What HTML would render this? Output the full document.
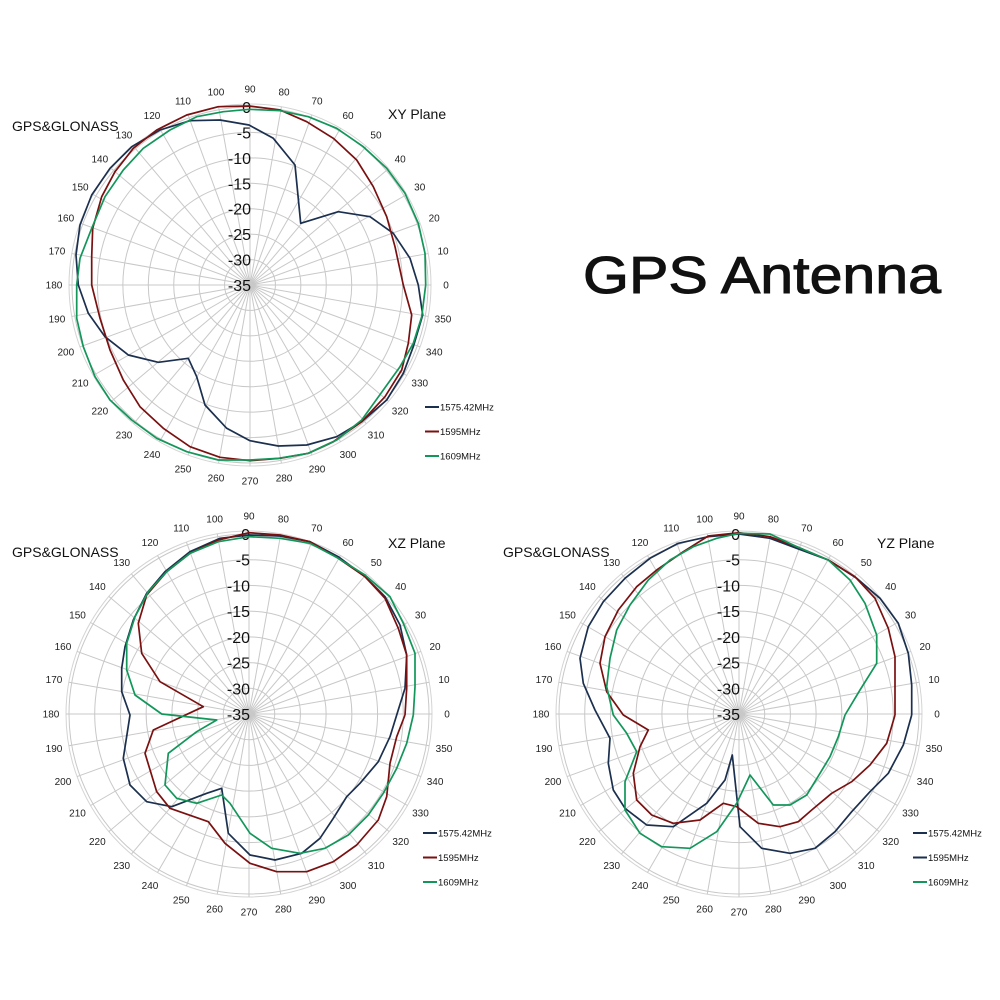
<!DOCTYPE html>
<html><head><meta charset="utf-8"><style>
html,body{margin:0;padding:0;background:#fff;width:1000px;height:1000px;overflow:hidden}
svg{display:block}
text{font-family:"Liberation Sans",Arial,sans-serif}
</style></head><body>
<svg id="s" width="1000" height="1000" xmlns="http://www.w3.org/2000/svg">
<text x="583" y="293" font-size="52" fill="#111" stroke="#111" stroke-width="1" textLength="358" lengthAdjust="spacingAndGlyphs">GPS Antenna</text>
</svg>
<script>
const NS="http://www.w3.org/2000/svg";
const s=document.getElementById('s');
function el(t,a,txt){const e=document.createElementNS(NS,t);for(const k in a)e.setAttribute(k,a[k]);if(txt!==undefined)e.textContent=txt;s.appendChild(e);return e;}
const NAVY="#1b2f4e",RED="#7a1010",GREEN="#12965a";
function plot(cx,cy,R,ox,oy,title,curves,legx,legy,legCols){
  for(let k=1;k<=7;k++)el('circle',{cx,cy,r:R*k/7,fill:'none',stroke:'#c8c8c8','stroke-width':1});
  el('circle',{cx,cy,r:R+3,fill:'none',stroke:'#d4d4d4','stroke-width':1});
  for(let a=0;a<360;a+=10){const t=a*Math.PI/180;
    el('line',{x1:cx,y1:cy,x2:cx+(R+3)*Math.cos(t),y2:cy-(R+3)*Math.sin(t),stroke:'#c8c8c8','stroke-width':1});
    el('text',{x:cx+(R+18)*Math.cos(t),y:cy-(R+18)*Math.sin(t)+3.5,'font-size':10,'text-anchor':'middle',fill:'#222'},String(a));
  }
  for(let k=0;k<=7;k++){el('text',{x:cx+1,y:cy-R*k/7+6,'font-size':16,'text-anchor':'end',fill:'#111'},String(k==7?0:-(35-5*k)));}
  curves.forEach((c,i)=>{
    const pts=c.p.map(p=>(ox+p[0]/3).toFixed(1)+','+(oy+p[1]/3).toFixed(1)).join(' ');
    el('polyline',{points:pts,fill:'none',stroke:c.col,'stroke-width':1.7,'stroke-linejoin':'round'});
  });
  ['1575.42MHz','1595MHz','1609MHz'].forEach((n,i)=>{
    const y=legy+i*24.5;
    el('line',{x1:legx,y1:y,x2:legx+14,y2:y,stroke:legCols[i],'stroke-width':2});
    el('text',{x:legx+15,y:y+3.5,'font-size':9.5,fill:'#111'},n);
  });
}
plot(250,285,178,60,80,'',[
 {col:NAVY,p:[[1075,615],[1088,705],[1060,800],[1030,880],[980,960],[905,1025],[830,1070],[740,1095],[655,1098],[570,1082],[500,1045],[435,975],[410,890],[385,835],[295,847],[205,825],[135,770],[85,700],[55,615],[48,525],[60,435],[95,345],[150,265],[215,200],[300,150],[390,122],[480,120],[567,135],[640,175],[705,255],[722,430],[835,395],[930,410],[1000,460],[1050,535],[1075,615]]},
 {col:RED,p:[[1030,615],[1055,705],[1045,790],[1025,870],[975,950],[905,1025],[820,1085],[745,1120],[660,1135],[570,1142],[480,1132],[390,1100],[310,1045],[240,980],[190,900],[150,810],[120,715],[95,615],[95,530],[98,445],[125,350],[165,275],[220,205],[290,150],[380,105],[475,80],[567,78],[660,90],[740,125],[820,175],[890,240],[940,320],[980,410],[1005,500],[1030,615]]},
 {col:GREEN,p:[[1097,615],[1085,710],[1060,790],[1020,860],[970,930],[905,1020],[830,1080],[745,1120],[655,1135],[570,1140],[475,1140],[380,1115],[290,1075],[215,1020],[150,960],[105,890],[70,800],[50,715],[50,615],[60,535],[95,445],[135,350],[190,270],[250,205],[330,150],[410,110],[490,95],[567,88],[660,92],[745,110],[830,145],[910,200],[980,265],[1035,340],[1075,430],[1095,520],[1097,615]]}
],425,407,[NAVY,RED,GREEN]);
plot(249,714,180,50,510,'',[
 {col:NAVY,p:[[1040,615],[1020,680],[985,755],[930,820],[890,860],[850,925],[810,985],[755,1030],[675,1050],[600,1035],[535,970],[515,835],[470,850],[365,890],[290,875],[240,825],[220,745],[240,615],[215,545],[215,475],[225,410],[250,330],[290,250],[345,185],[420,125],[510,85],[597,75],[690,78],[780,95],[865,140],[945,200],[1005,260],[1050,345],[1070,435],[1065,535],[1040,615]]},
 {col:RED,p:[[1065,615],[1040,680],[1020,760],[1010,860],[985,930],[920,1005],[850,1055],[770,1085],[680,1085],[600,1060],[525,1000],[475,935],[360,895],[320,845],[285,730],[310,660],[460,590],[330,515],[275,430],[265,340],[290,255],[350,185],[420,130],[505,90],[597,68],[690,75],[780,95],[865,145],[945,200],[1005,265],[1045,355],[1070,435],[1070,535],[1065,615]]},
 {col:GREEN,p:[[1090,615],[1070,700],[1040,775],[1000,850],[955,915],[895,975],[825,1015],[750,1030],[665,1015],[600,970],[540,880],[515,855],[440,880],[380,865],[345,825],[355,730],[440,665],[500,630],[335,612],[255,555],[230,480],[230,400],[255,320],[295,245],[350,185],[420,130],[505,95],[597,80],[690,85],[780,100],[865,145],[945,195],[1020,260],[1060,340],[1095,430],[1095,530],[1090,615]]}
],423,833,[NAVY,RED,GREEN]);
plot(739,714,180,540,510,'',[
 {col:NAVY,p:[[1115,615],[1090,705],[1045,790],[990,845],[935,905],[885,965],[825,1015],[750,1030],[665,1015],[600,950],[577,735],[555,810],[500,880],[400,950],[320,945],[255,895],[220,840],[205,760],[210,685],[165,600],[130,520],[120,445],[145,350],[190,275],[255,205],[330,145],[415,100],[505,80],[597,72],[690,85],[770,115],[865,150],[950,205],[1020,265],[1075,340],[1105,430],[1115,525],[1115,615]]},
 {col:RED,p:[[1065,615],[1040,700],[990,765],[935,815],[875,850],[815,900],[775,935],[720,950],[655,940],[590,890],[550,880],[480,930],[400,940],[335,915],[290,870],[280,790],[300,710],[325,660],[250,615],[200,545],[180,460],[195,380],[235,300],[290,230],[350,180],[430,125],[505,78],[597,68],[690,80],[770,110],[865,150],[945,200],[1005,265],[1045,355],[1065,440],[1065,530],[1065,615]]},
 {col:GREEN,p:[[915,615],[895,680],[870,740],[840,790],[800,855],[750,885],[700,885],[630,795],[590,880],[530,965],[450,1015],[365,1010],[300,970],[255,900],[255,815],[290,725],[260,670],[220,615],[200,530],[210,445],[230,360],[270,285],[325,210],[390,150],[460,110],[530,85],[597,70],[690,72],[770,110],[865,150],[930,210],[975,280],[1010,375],[1010,460],[960,540],[915,615]]}
],913,833,[NAVY,NAVY,GREEN]);
[[12,131,'GPS&GLONASS'],[388,119,'XY Plane'],[12,557,'GPS&GLONASS'],[388,548,'XZ Plane'],[503,557,'GPS&GLONASS'],[877,548,'YZ Plane']].forEach(t=>el('text',{x:t[0],y:t[1],'font-size':14,fill:'#111'},t[2]));
</script>
</body></html>
